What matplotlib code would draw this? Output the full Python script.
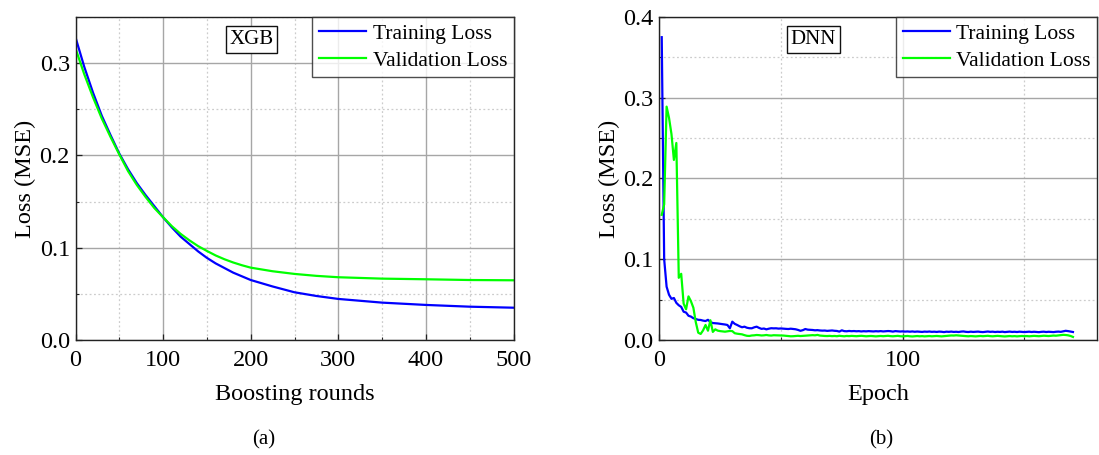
# plot.py
# Training / validation loss curves for the XGB and DNN models

import matplotlib
matplotlib.use('Agg')
import matplotlib.pyplot as plt
from matplotlib.ticker import MultipleLocator, FormatStrFormatter
import numpy as np

plt.rcParams['font.family'] = ['Liberation Serif', 'DejaVu Serif']
plt.rcParams['mathtext.fontset'] = 'stix'

# ----------------------------
# Data
# ----------------------------
xgb_rounds = [0, 10, 20, 30, 40, 50, 60, 70, 80, 90, 100, 110, 120, 130, 140,
              150, 160, 170, 180, 190, 200, 225, 250, 275, 300, 350, 400, 450, 500]
xgb_train = [0.328, 0.296, 0.268, 0.243, 0.222, 0.202, 0.185, 0.170, 0.157, 0.145,
             0.133, 0.122, 0.112, 0.104, 0.096, 0.089, 0.083, 0.078, 0.073, 0.069,
             0.065, 0.058, 0.0517, 0.0477, 0.0445, 0.0405, 0.038, 0.0361, 0.035]
xgb_val = [0.316, 0.288, 0.263, 0.240, 0.220, 0.201, 0.183, 0.168, 0.155, 0.143,
           0.133, 0.1233, 0.115, 0.108, 0.1017, 0.0965, 0.0916, 0.0875, 0.084, 0.081,
           0.0784, 0.0745, 0.0716, 0.0695, 0.068, 0.0665, 0.0658, 0.065, 0.0647]

dnn_train = [
    0.375, 0.100, 0.066, 0.056, 0.051, 0.052, 0.046, 0.043, 0.041, 0.035,
    0.034, 0.030, 0.029, 0.027, 0.026, 0.025, 0.0248, 0.024, 0.0235, 0.025,
    0.0222, 0.021, 0.0208, 0.0205, 0.0200, 0.0196, 0.0192, 0.0186, 0.0145, 0.0227,
    0.0200, 0.0186, 0.0170, 0.0158, 0.0165, 0.0152, 0.0146, 0.0145, 0.0157, 0.0165,
    0.0150, 0.0138, 0.0142, 0.0132, 0.0140, 0.0146, 0.0144, 0.0145, 0.0141, 0.0143,
    0.0140, 0.0138, 0.0136, 0.0140, 0.0137, 0.0133, 0.0125, 0.0114, 0.0122, 0.0136,
    0.0128, 0.0126, 0.0124, 0.0120, 0.0122, 0.0118, 0.0116, 0.0117, 0.0113, 0.0115,
    0.0118, 0.0114, 0.0112, 0.0104, 0.0120, 0.0110, 0.0108, 0.0112, 0.0109, 0.0111,
    0.0108, 0.0110, 0.0106, 0.0109, 0.0107, 0.0110, 0.0108, 0.0106, 0.0109, 0.0107,
    0.0110, 0.0106, 0.0108, 0.0111, 0.0109, 0.0104, 0.0110, 0.0108, 0.0105, 0.0107,
    0.0104, 0.0106, 0.0103, 0.0106, 0.0102, 0.0105, 0.0103, 0.0100, 0.0104, 0.0102,
    0.0105, 0.0101, 0.0103, 0.0100, 0.0104, 0.0102, 0.0098, 0.0103, 0.0101, 0.0104,
    0.0100, 0.0102, 0.0099, 0.0104, 0.0106, 0.0101, 0.0099, 0.0103, 0.0100, 0.0102,
    0.0104, 0.0100, 0.0098, 0.0102, 0.0105, 0.0101, 0.0103, 0.0099, 0.0102, 0.0100,
    0.0103, 0.0098, 0.0101, 0.0104, 0.0100, 0.0102, 0.0099, 0.0103, 0.0100, 0.0098,
    0.0101, 0.0103, 0.0099, 0.0102, 0.0100, 0.0097, 0.0101, 0.0103, 0.0099, 0.0102,
    0.0100, 0.0098, 0.0102, 0.0104, 0.0101, 0.0108, 0.0114, 0.0110, 0.0104, 0.0099,
]
dnn_val = [
    0.155, 0.168, 0.289, 0.275, 0.255, 0.223, 0.244, 0.077, 0.082, 0.045,
    0.038, 0.054, 0.048, 0.040, 0.022, 0.009, 0.0075, 0.012, 0.0186, 0.0115,
    0.0245, 0.0100, 0.0132, 0.0116, 0.0110, 0.0106, 0.0103, 0.0108, 0.0112, 0.0110,
    0.0084, 0.0078, 0.0074, 0.0070, 0.0060, 0.0052, 0.0050, 0.0056, 0.0058, 0.0062,
    0.0060, 0.0056, 0.0058, 0.0062, 0.0057, 0.0055, 0.0059, 0.0058, 0.0056, 0.0057,
    0.0055, 0.0052, 0.0048, 0.0046, 0.0047, 0.0050, 0.0052, 0.0049, 0.0051, 0.0053,
    0.0055, 0.0057, 0.0060, 0.0058, 0.0063, 0.0055, 0.0052, 0.0050, 0.0049, 0.0051,
    0.0048, 0.0050, 0.0047, 0.0052, 0.0049, 0.0046, 0.0050, 0.0048, 0.0051, 0.0049,
    0.0047, 0.0050, 0.0052, 0.0049, 0.0046, 0.0048, 0.0050, 0.0047, 0.0045, 0.0048,
    0.0050, 0.0047, 0.0049, 0.0052, 0.0048, 0.0046, 0.0049, 0.0051, 0.0047, 0.0045,
    0.0048, 0.0050, 0.0046, 0.0044, 0.0047, 0.0049, 0.0046, 0.0048, 0.0045, 0.0047,
    0.0049, 0.0046, 0.0048, 0.0050, 0.0047, 0.0045, 0.0048, 0.0051, 0.0054, 0.0056,
    0.0055, 0.0058, 0.0056, 0.0053, 0.0050, 0.0048, 0.0046, 0.0049, 0.0047, 0.0045,
    0.0048, 0.0050, 0.0047, 0.0049, 0.0052, 0.0048, 0.0046, 0.0049, 0.0051, 0.0048,
    0.0046, 0.0044, 0.0047, 0.0049, 0.0046, 0.0048, 0.0045, 0.0047, 0.0050, 0.0047,
    0.0049, 0.0046, 0.0048, 0.0051, 0.0049, 0.0047, 0.0050, 0.0053, 0.0051, 0.0049,
    0.0052, 0.0055, 0.0053, 0.0057, 0.0060, 0.0064, 0.0062, 0.0058, 0.0050, 0.0038,
]
dnn_epochs = np.arange(1, len(dnn_train) + 1)

# ----------------------------
# Figure layout
# ----------------------------
W, H = 1099, 455
fig = plt.figure(figsize=(W / 100, H / 100), dpi=100)
ax1 = fig.add_axes([75.5 / W, 115 / H, 438 / W, 323 / H])
ax2 = fig.add_axes([659.3 / W, 115 / H, 438 / W, 323 / H])

FS = 17.5


def style_axes(ax, xmax, ymax, xmaj, xmin, tag, tag_x):
    ax.set_xlim(0, xmax)
    ax.set_ylim(0, ymax)
    ax.xaxis.set_major_locator(MultipleLocator(xmaj))
    ax.xaxis.set_minor_locator(MultipleLocator(xmin))
    ax.yaxis.set_major_locator(MultipleLocator(0.1))
    ax.yaxis.set_minor_locator(MultipleLocator(0.05))
    ax.yaxis.set_major_formatter(FormatStrFormatter('%.1f'))
    ax.set_axisbelow(True)
    ax.grid(which='major', color='#a6a6a6', lw=1.0, ls='-')
    ax.grid(which='minor', color='#cccccc', lw=0.9, ls=(0, (1.5, 2)))
    ax.tick_params(which='both', direction='in', top=False, right=False,
                   labelsize=FS, color='#222222')
    ax.tick_params(which='major', length=4, width=0.9)
    ax.tick_params(which='minor', length=2.5, width=0.8)
    ax.tick_params(axis='x', pad=7.5)
    ax.tick_params(axis='y', pad=4)
    for s in ax.spines.values():
        s.set_color('#222222')
        s.set_linewidth(1.0)
    ax.set_ylabel('Loss (MSE)', fontsize=FS)
    ax.yaxis.set_label_coords(-0.09, 0.5)
    ax.xaxis.set_label_coords(0.5, -0.135)
    ax.text(tag_x, 0.93, tag, transform=ax.transAxes, fontsize=15,
            ha='center', va='center',
            bbox=dict(boxstyle='square,pad=0.18', fc='white', ec='#111111', lw=1.0))
    leg = ax.legend(loc='upper right', fontsize=15.5, frameon=True, fancybox=False,
                    borderaxespad=0, borderpad=0.3, handlelength=2.2,
                    handletextpad=0.3, labelspacing=0.33)
    leg.get_frame().set_edgecolor('#222222')
    leg.get_frame().set_linewidth(1.0)


# ----------------------------
# (a) XGB
# ----------------------------
ax1.plot(xgb_rounds, xgb_train, color='#0000ff', lw=1.6, label='Training Loss')
ax1.plot(xgb_rounds, xgb_val, color='#00ff00', lw=1.6, label='Validation Loss')
ax1.set_xlabel('Boosting rounds', fontsize=FS)
style_axes(ax1, 500, 0.35, 100, 50, 'XGB', 0.402)

# ----------------------------
# (b) DNN
# ----------------------------
ax2.plot(dnn_epochs, dnn_train, color='#0000ff', lw=1.6, label='Training Loss')
ax2.plot(dnn_epochs, dnn_val, color='#00ff00', lw=1.6, label='Validation Loss')
ax2.set_xlabel('Epoch', fontsize=FS)
style_axes(ax2, 180, 0.4, 100, 50, 'DNN', 0.352)

fig.text(263.7 / W, 1 - 440 / H, '(a)', fontsize=15, ha='center', va='center')
fig.text(881 / W, 1 - 440 / H, '(b)', fontsize=15, ha='center', va='center')

fig.savefig('out.png', dpi=100)
